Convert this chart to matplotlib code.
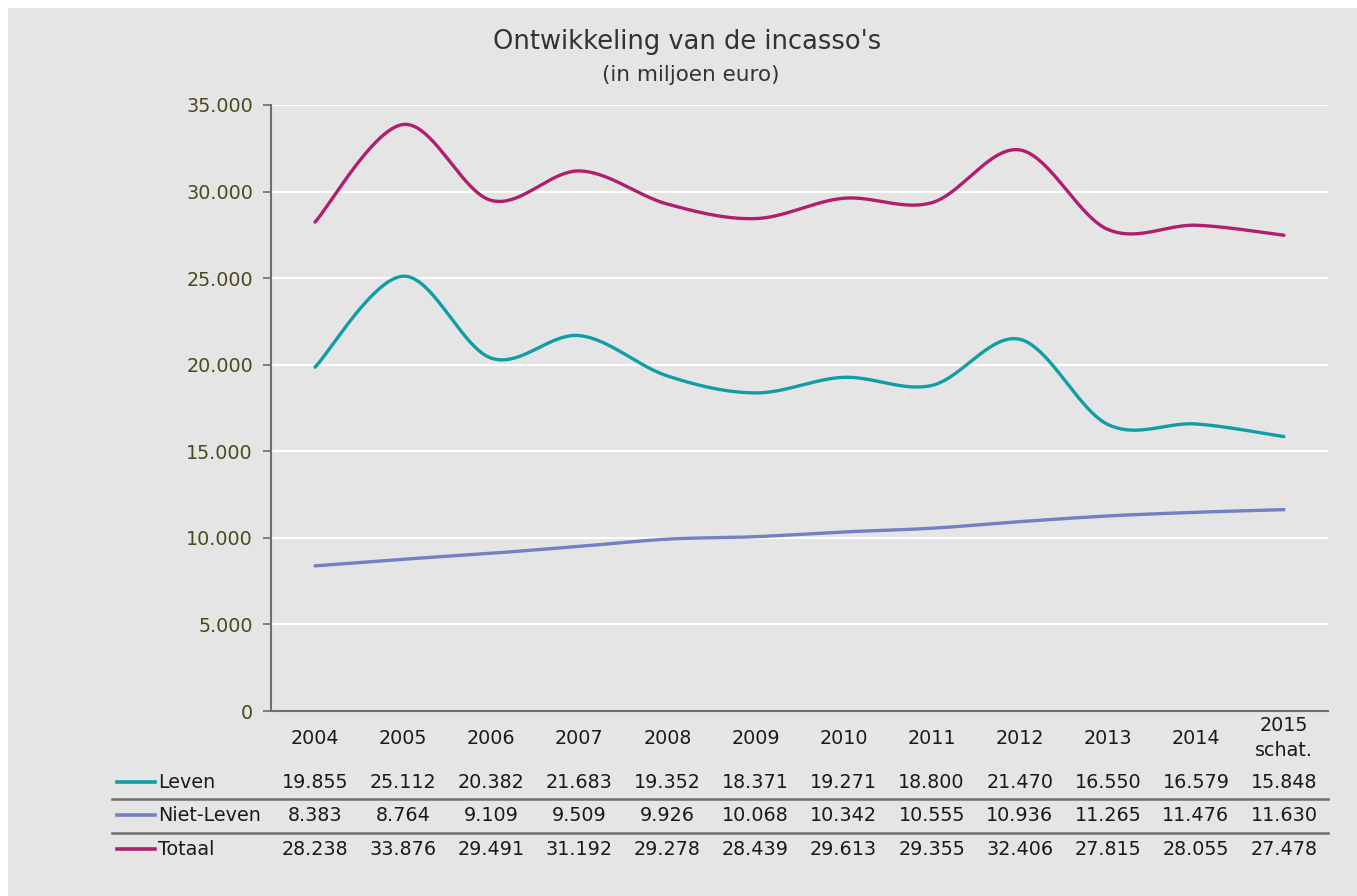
import numpy as np
import matplotlib
matplotlib.use("Agg")
import matplotlib.pyplot as plt
from matplotlib.transforms import blended_transform_factory
from matplotlib.lines import Line2D
from matplotlib.patches import Rectangle
from matplotlib.ticker import FuncFormatter, MultipleLocator

# --- data ---
years = ["2004", "2005", "2006", "2007", "2008", "2009", "2010", "2011",
         "2012", "2013", "2014", "2015\nschat."]
leven = [19855, 25112, 20382, 21683, 19352, 18371, 19271, 18800, 21470,
         16550, 16579, 15848]
niet_leven = [8383, 8764, 9109, 9509, 9926, 10068, 10342, 10555, 10936,
              11265, 11476, 11630]
totaal = [28238, 33876, 29491, 31192, 29278, 28439, 29613, 29355, 32406,
          27815, 28055, 27478]

series = [
    ("Leven", leven, "#109ea6"),
    ("Niet-Leven", niet_leven, "#7480c4"),
    ("Totaal", totaal, "#b01f6f"),
]

W, H = 1357, 896
BG = "#e5e5e5"
TXT = "#1a1a1a"
AXC = "#6e6e6e"
FS = 13.8

plt.rcParams["font.family"] = ["DejaVu Sans"]

fig = plt.figure(figsize=(W / 100, H / 100), dpi=100)
fig.patch.set_facecolor("white")
fig.patches.append(Rectangle((8 / W, 0), 1, 1 - 8 / H, transform=fig.transFigure,
                             facecolor=BG, edgecolor="none", zorder=-10))


def fx(px):
    return px / W


def fy(py):
    return 1 - py / H


ax = fig.add_axes([fx(271), fy(711), fx(1328) - fx(271), fy(105) - fy(711)])
ax.set_facecolor(BG)


def smooth(y, n=40):
    """Bezier smoothing through every point (Catmull-Rom style)."""
    y = np.asarray(y, float)
    x = np.arange(len(y), dtype=float)
    pts = np.column_stack([x, y])
    ext = np.vstack([pts[0], pts, pts[-1]])
    out = []
    t = np.linspace(0, 1, n)[:, None]
    for i in range(len(pts) - 1):
        p0, p1, p2, p3 = ext[i], ext[i + 1], ext[i + 2], ext[i + 3]
        c1 = p1 + (p2 - p0) / 6
        c2 = p2 - (p3 - p1) / 6
        seg = ((1 - t) ** 3) * p1 + 3 * ((1 - t) ** 2) * t * c1 \
            + 3 * (1 - t) * t ** 2 * c2 + t ** 3 * p2
        out.append(seg if i == 0 else seg[1:])
    c = np.vstack(out)
    return c[:, 0], c[:, 1]


for name, vals, col in series:
    xs, ys = smooth(vals)
    ax.plot(xs, ys, color=col, lw=2.4, solid_capstyle="round", zorder=3)

ax.set_xlim(-0.5, len(years) - 0.5)
ax.set_ylim(0, 35000)
ax.yaxis.set_major_locator(MultipleLocator(5000))
ax.yaxis.set_major_formatter(FuncFormatter(lambda v, p: f"{int(v):,}".replace(",", ".")))
ax.grid(axis="y", color="white", lw=1.5, zorder=0)
ax.set_axisbelow(True)
ax.set_xticks([])
for s in ["top", "right"]:
    ax.spines[s].set_visible(False)
for s in ["left", "bottom"]:
    ax.spines[s].set_color(AXC)
    ax.spines[s].set_linewidth(1.5)
ax.tick_params(axis="y", length=6, width=1.2, color=AXC, labelcolor="#4a4a1c",
               labelsize=FS, pad=7)

# Title
fig.text(fx(687), fy(42), "Ontwikkeling van de incasso's", ha="center", va="center",
         fontsize=18.5, color="#333333")
fig.text(fx(691), fy(75), "(in miljoen euro)", ha="center", va="center",
         fontsize=15.5, color="#333333")

# Data table below the axis
tr = blended_transform_factory(ax.transData, fig.transFigure)
for i, yr in enumerate(years):
    fig.text(i, fy(738), yr, transform=tr, ha="center", va="center",
             fontsize=FS, color=TXT, linespacing=1.45)

row_y = [782, 815, 849]
for (name, vals, col), ry in zip(series, row_y):
    fig.add_artist(Line2D([fx(117), fx(155)], [fy(ry), fy(ry)], color=col, lw=2.6,
                          transform=fig.transFigure))
    fig.text(fx(158), fy(ry), name, ha="left", va="center", fontsize=FS, color=TXT)
    for i, v in enumerate(vals):
        fig.text(i, fy(ry), f"{v:,}".replace(",", "."), transform=tr,
                 ha="center", va="center", fontsize=FS, color=TXT)

for ly in [799, 833]:
    fig.add_artist(Line2D([fx(112), fx(1328)], [fy(ly), fy(ly)], color=AXC, lw=1.8,
                          transform=fig.transFigure))

fig.savefig("out.png", dpi=100, facecolor=fig.get_facecolor())
